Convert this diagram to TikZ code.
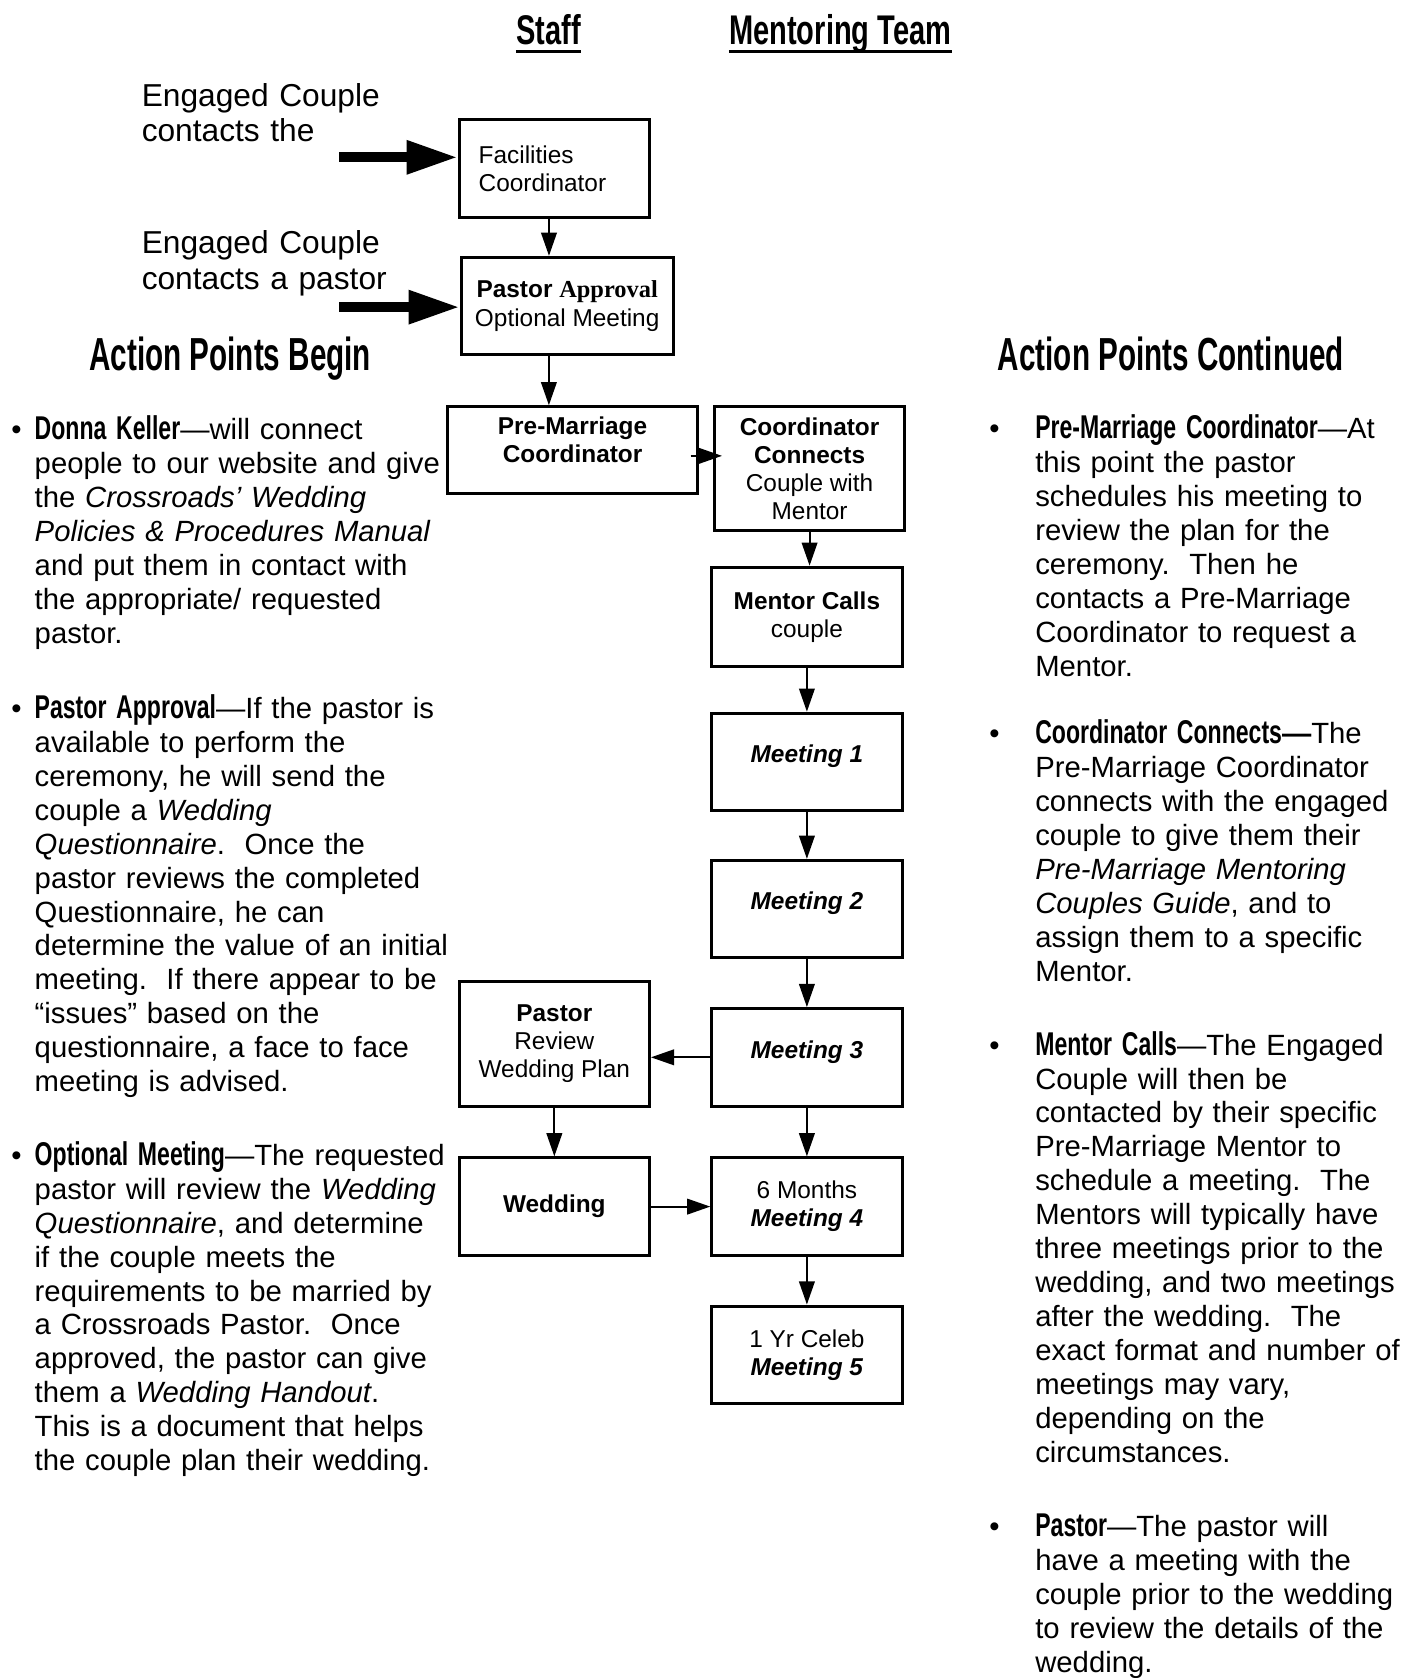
\documentclass[tikz,border=0pt]{standalone}
\usepackage{fontspec}
\setmainfont{Liberation Sans}
\newfontfamily\serifface{Liberation Serif}
\newfontfamily\headface[FakeStretch=0.64]{Liberation Sans}
\newfontfamily\condface[FakeStretch=0.7]{Liberation Sans}
\usepackage{tikz}
\usetikzlibrary{arrows.meta, positioning}

\newcommand{\bodytext}{\fontsize{12}{13.9}\selectfont}
\newcommand{\boxtext}{\fontsize{10}{11.5}\selectfont}
\newcommand{\keyword}[1]{{\condface\bfseries\fontsize{13.5}{13.9}\selectfont #1}}
\newcommand{\lbul}{\makebox[0pt][r]{\textbullet\hspace{5.4pt}}}
\newcommand{\rbul}{\makebox[0pt][r]{\textbullet\hspace{14.6pt}}}

\begin{document}
\begin{tikzpicture}[
  x=0.4387pt, y=-0.4387pt,
  stepbox/.style={draw, line width=1.2pt, inner sep=0pt, align=center,
                  font=\boxtext, minimum width=78pt, minimum height=40pt},
  lift/.style={text height=7pt, text depth=#1},
  arw/.style={-{Triangle[length=9.5pt, width=6.4pt]}, line width=0.8pt},
  fatarw/.style={-{Triangle[length=21pt, width=13pt]}, line width=4.1pt},
  para/.style={anchor=base west, inner sep=0pt, align=left,
               text width=#1, font=\bodytext},
  heading/.style={anchor=base west, inner sep=0pt,
                  font=\headface\bfseries\fontsize{19}{22}\selectfont},
  colhead/.style={anchor=base west, inner sep=0pt,
                  font=\condface\bfseries\fontsize{17}{20}\selectfont}
]

\path[use as bounding box, fill=white] (0,0) rectangle (1316,1568);

% === Column titles ===
\node[colhead] (staff) at (482,42) {Staff};
\node[colhead] (mteam) at (681,42) {Mentoring Team};
\draw[line width=1.1pt] ([yshift=-2.8pt]staff.base west) -- ([yshift=-2.8pt]staff.base east);
\draw[line width=1.1pt] ([yshift=-2.8pt]mteam.base west) -- ([yshift=-2.8pt]mteam.base east);

% === Entry points ===
\node[anchor=base west, inner sep=0pt, align=left, text width=120pt,
      font=\fontsize{13}{14.5}\selectfont] (ec1) at (132,99.5)
  {Engaged Couple\\contacts the};
\node[anchor=base west, inner sep=0pt, align=left, text width=120pt,
      font=\fontsize{13}{14.5}\selectfont] (ec2) at (132,237)
  {Engaged Couple\\contacts a pastor};
\coordinate (in1) at (317,147);
\coordinate (in2) at (317,287);

% === Staff boxes ===
\node[stepbox, minimum height=40.4pt, align=left, text width=62pt] (fac) at (518,157.5)
  {Facilities\\Coordinator};
\node[stepbox, minimum width=86.9pt] (pa) at (530,286)
  {\textbf{Pastor {\serifface Approval}}\\Optional Meeting};
\node[stepbox, minimum width=102.7pt, minimum height=35.5pt,
      text height=18.7pt, text depth=8.4pt] (pm) at (535,420.5)
  {\textbf{Pre-Marriage}\\\textbf{Coordinator}};
\node[stepbox, minimum height=51.3pt] (pr) at (518,975.5)
  {\textbf{Pastor}\\Review\\Wedding Plan};
\node[stepbox] (wed) at (518,1127.5) {\textbf{Wedding}};

% === Mentoring team boxes ===
\node[stepbox, minimum width=77.6pt, minimum height=50.9pt] (cc) at (756.5,438)
  {\textbf{Coordinator}\\\textbf{Connects}\\Couple with\\Mentor};
\node[stepbox, minimum height=40.8pt] (mc) at (754,576.5) {\textbf{Mentor Calls}\\couple};
\node[stepbox, lift=6.4pt] (m1) at (754,712) {\textbf{\textit{Meeting 1}}};
\node[stepbox, lift=6.4pt] (m2) at (754,849.5) {\textbf{\textit{Meeting 2}}};
\node[stepbox, lift=6.4pt] (m3) at (754,988) {\textbf{\textit{Meeting 3}}};
\node[stepbox] (m4) at (754,1127.5) {6 Months\\\textbf{\textit{Meeting 4}}};
\node[stepbox] (m5) at (754,1266) {1 Yr Celeb\\\textbf{\textit{Meeting 5}}};

% === Connectors ===
\draw[fatarw] (in1) -- (in1 -| fac.west);
\draw[fatarw] (in2) -- (in2 -| pa.west);
\draw[arw] ([xshift=-2.2pt]fac.south) -- ([xshift=-2.2pt]fac.south |- pa.north);
\draw[arw] ([xshift=-7.5pt]pa.south) -- ([xshift=-7.5pt]pa.south |- pm.north);
\coordinate (pmout) at ([shift={(-3.5pt,-2.4pt)}]pm.east);
\draw[arw] (pmout) -- ([xshift=3.5pt]pmout -| cc.west);
\draw[arw] (cc.south) -- (cc.south |- mc.north);
\draw[arw] (mc) -- (m1);
\draw[arw] (m1) -- (m2);
\draw[arw] (m2) -- (m3);
\draw[arw] (m3.west) -- (m3.west -| pr.east);
\draw[arw] (pr) -- (wed);
\draw[arw] (wed) -- (m4);
\draw[arw] (m3) -- (m4);
\draw[arw] (m4) -- (m5);

% === Action points, left ===
\node[heading] (apb) at (83,346) {Action Points Begin};

\node[para=185pt] (lp1) at (32,411)
  {\lbul\keyword{Donna Keller}—will connect\\
   people to our website and give\\
   the \textit{Crossroads’ Wedding}\\
   \textit{Policies \& Procedures Manual}\\
   and put them in contact with\\
   the appropriate/ requested\\
   pastor.};

\node[para=185pt] (lp2) at (32,671.5)
  {\lbul\keyword{Pastor Approval}—If the pastor is\\
   available to perform the\\
   ceremony, he will send the\\
   couple a \textit{Wedding}\\
   \textit{Questionnaire}.\ \ Once the\\
   pastor reviews the completed\\
   Questionnaire, he can\\
   determine the value of an initial\\
   meeting.\ \ If there appear to be\\
   “issues” based on the\\
   questionnaire, a face to face\\
   meeting is advised.};

\node[para=185pt] (lp3) at (32,1089)
  {\lbul\keyword{Optional Meeting}—The requested\\
   pastor will review the \textit{Wedding}\\
   \textit{Questionnaire}, and determine\\
   if the couple meets the\\
   requirements to be married by\\
   a Crossroads Pastor.\ \ Once\\
   approved, the pastor can give\\
   them a \textit{Wedding Handout}.\\
   This is a document that helps\\
   the couple plan their wedding.};

% === Action points, right ===
\node[heading] (apc) at (932,346) {Action Points Continued};

\node[para=170pt] (rp1) at (967,410)
  {\rbul\keyword{Pre-Marriage Coordinator}—At\\
   this point the pastor\\
   schedules his meeting to\\
   review the plan for the\\
   ceremony.\ \ Then he\\
   contacts a Pre-Marriage\\
   Coordinator to request a\\
   Mentor.};

\node[para=170pt] (rp2) at (967,695)
  {\rbul\keyword{Coordinator Connects}\textbf{—}The\\
   Pre-Marriage Coordinator\\
   connects with the engaged\\
   couple to give them their\\
   \textit{Pre-Marriage Mentoring}\\
   \textit{Couples Guide}, and to\\
   assign them to a specific\\
   Mentor.};

\node[para=170pt] (rp3) at (967,986)
  {\rbul\keyword{Mentor Calls}—The Engaged\\
   Couple will then be\\
   contacted by their specific\\
   Pre-Marriage Mentor to\\
   schedule a meeting.\ \ The\\
   Mentors will typically have\\
   three meetings prior to the\\
   wedding, and two meetings\\
   after the wedding.\ \ The\\
   exact format and number of\\
   meetings may vary,\\
   depending on the\\
   circumstances.};

\node[para=170pt] (rp4) at (967,1436)
  {\rbul\keyword{Pastor}—The pastor will\\
   have a meeting with the\\
   couple prior to the wedding\\
   to review the details of the\\
   wedding.};

\end{tikzpicture}
\end{document}
